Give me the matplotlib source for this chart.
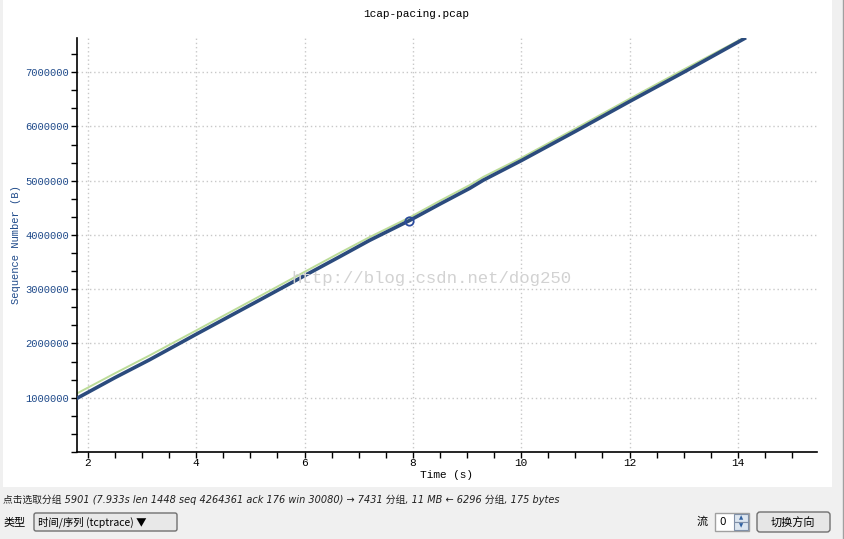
import matplotlib
matplotlib.use("Agg")
import matplotlib.pyplot as plt
from matplotlib.ticker import MultipleLocator
from matplotlib.patches import Rectangle, FancyBboxPatch

# ---- data ----
time_s = [1.80, 2.50, 3.14, 4.00, 5.17, 6.00, 6.65, 7.20, 7.933, 8.50, 9.05, 9.30,
          10.00, 11.00, 12.00, 12.37, 13.00, 14.12]
seq_blue = [0.99e6, 1.37e6, 1.70e6, 2.17e6, 2.80e6, 3.25e6, 3.60e6, 3.90e6, 4.264e6,
            4.57e6, 4.86e6, 5.01e6, 5.37e6, 5.91e6, 6.46e6, 6.66e6, 7.00e6, 7.62e6]
seq_green = [1.08e6, 1.45e6, 1.78e6, 2.24e6, 2.87e6, 3.32e6, 3.67e6, 3.96e6, 4.32e6,
             4.63e6, 4.92e6, 5.07e6, 5.42e6, 5.96e6, 6.51e6, 6.71e6, 7.05e6, 7.64e6]
sel_time = [7.933]
sel_seq = [4264361]
x_ticks = [2, 4, 6, 8, 10, 12, 14]
y_ticks = [1000000, 2000000, 3000000, 4000000, 5000000, 6000000, 7000000]

W, H = 845, 539
fig = plt.figure(figsize=(W / 100, H / 100), dpi=100)
fig.patch.set_facecolor("#f0f0f0")

# background "window" layer in pixel coordinates
bg = fig.add_axes([0, 0, 1, 1], zorder=0)
bg.set_xlim(0, W)
bg.set_ylim(H, 0)
bg.axis("off")
bg.add_patch(Rectangle((3, 0), 829, 487, facecolor="white", edgecolor="none"))
bg.add_patch(Rectangle((832, 0), 13, 539, facecolor="#f0f0f0", edgecolor="none"))
bg.plot([843, 843], [0, 539], color="#a0a0a0", lw=1)

mono = "Liberation Mono"
blue_txt = "#1f4a8a"

ax = fig.add_axes([77 / W, 1 - 452 / H, (817 - 77) / W, (452 - 38) / H], zorder=1)
ax.set_facecolor("white")
ax.plot(time_s, seq_green, color="#bcdc98", lw=1.4, zorder=2)
ax.plot(time_s, seq_blue, color="#2b4b7d", lw=2.6, zorder=3)
ax.plot(sel_time, sel_seq, marker="o", ms=6, mfc="none", mec="#2b4b9d", mew=1.3, zorder=4, ls="none")

ax.set_xlim(1.80, 15.46)
ax.set_ylim(0, 7.63e6)
ax.set_xticks(x_ticks)
ax.set_yticks(y_ticks)
ax.set_xticklabels([str(v) for v in x_ticks], fontfamily=mono, fontsize=8, color="black")
ax.set_yticklabels([str(v) for v in y_ticks], fontfamily=mono, fontsize=7.6, color=blue_txt)
ax.xaxis.set_minor_locator(MultipleLocator(0.5))
ax.yaxis.set_minor_locator(MultipleLocator(1e6 / 3))
ax.tick_params(which="both", direction="out", length=4, width=1, color="black")
ax.tick_params(axis="x", pad=0.5)
ax.tick_params(axis="y", pad=1.5)
for s in ["top", "right"]:
    ax.spines[s].set_visible(False)
for s in ["left", "bottom"]:
    ax.spines[s].set_color("black")
    ax.spines[s].set_linewidth(1.2)
ax.grid(True, which="major", color="#c8c8c8", linestyle=(0, (1, 2)), lw=1)
ax.set_axisbelow(True)

ax.set_xlabel("Time (s)", fontfamily=mono, fontsize=8, color="black", labelpad=1)
ax.set_ylabel("Sequence Number (B)", fontfamily=mono, fontsize=7.6, color=blue_txt, labelpad=3)

# title
bg.text(416, 14, "1cap-pacing.pcap", fontfamily=mono, fontsize=8, ha="center", va="center")

# watermark (on top of the plot)
fig.text(431 / W, 1 - 279 / H, "http://blog.csdn.net/dog250", fontfamily=mono, fontsize=12.5,
         color="#d2d2d2", ha="center", va="center", zorder=10)

cjk = ["Noto Sans CJK SC", "DejaVu Sans"]
bg.text(3, 500, "点击选取分组 5901 (7.933s len 1448 seq 4264361 ack 176 win 30080) → 7431 分组, 11 MB ← 6296 分组, 175 bytes",
        fontfamily=["DejaVu Sans", "Noto Sans CJK SC"], fontsize=7, style="italic",
        color="#202020", ha="left", va="center")

# combo box
bg.text(3, 522, "类型", fontfamily=cjk, fontsize=8, ha="left", va="center")
bg.add_patch(FancyBboxPatch((34, 513), 143, 18, boxstyle="round,pad=0,rounding_size=2",
                            facecolor="#e8e8e8", edgecolor="#707070", lw=1))
bg.text(38, 522, "时间/序列 (tcptrace) ▼", fontfamily=cjk, fontsize=7.5, ha="left", va="center")

# spin box
bg.text(697, 522, "流", fontfamily=cjk, fontsize=8, ha="left", va="center")
bg.add_patch(Rectangle((715, 513), 34, 18, facecolor="white", edgecolor="#a0a0a0", lw=1))
bg.text(719, 522, "0", fontfamily="DejaVu Sans", fontsize=7.5, ha="left", va="center")
bg.add_patch(Rectangle((734, 514), 14, 8, facecolor="#dde6f0", edgecolor="#8090a8", lw=0.8))
bg.add_patch(Rectangle((734, 522), 14, 8, facecolor="#dde6f0", edgecolor="#8090a8", lw=0.8))
bg.text(741, 518, "▲", fontfamily="DejaVu Sans", fontsize=4, color="#3060a0", ha="center", va="center")
bg.text(741, 526, "▼", fontfamily="DejaVu Sans", fontsize=4, color="#3060a0", ha="center", va="center")

# button
bg.add_patch(FancyBboxPatch((757, 512), 73, 20, boxstyle="round,pad=0,rounding_size=3",
                            facecolor="#e6e6e6", edgecolor="#707070", lw=1))
bg.text(793, 522, "切换方向", fontfamily=cjk, fontsize=8, ha="center", va="center")

fig.savefig("out.png", dpi=100, facecolor=fig.get_facecolor())
